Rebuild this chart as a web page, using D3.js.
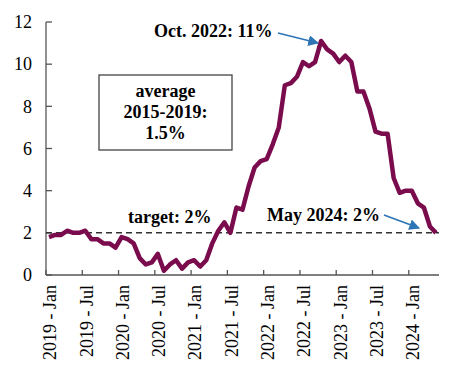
<!DOCTYPE html>
<html>
<head>
<meta charset="utf-8">
<script src="https://cdn.jsdelivr.net/npm/d3@7"></script>
<style>
  body { margin: 0; background: #fff; }
</style>
</head>
<body>
<svg id="chart" width="463" height="375" font-family="'Liberation Serif', 'DejaVu Serif', serif"></svg>
<script>
// datos
const years = [2019, 2020, 2021, 2022, 2023, 2024];
const monthNames = ['Jan','Feb','Mar','Apr','May','Jun','Jul','Aug','Sep','Oct','Nov','Dec'];
const inflation = [
  1.8, 1.9, 1.9, 2.1, 2.0, 2.0, 2.1, 1.7, 1.7, 1.5, 1.5, 1.3,
  1.8, 1.7, 1.5, 0.8, 0.5, 0.6, 1.0, 0.2, 0.5, 0.7, 0.3, 0.6,
  0.7, 0.4, 0.7, 1.5, 2.1, 2.5, 2.0, 3.2, 3.1, 4.2, 5.1, 5.4,
  5.5, 6.2, 7.0, 9.0, 9.1, 9.4, 10.1, 9.9, 10.1, 11.1, 10.7, 10.5,
  10.1, 10.4, 10.1, 8.7, 8.7, 7.9, 6.8, 6.7, 6.7, 4.6, 3.9, 4.0,
  4.0, 3.4, 3.2, 2.3, 2.0
];
const target = 2;
const yTicks = [0, 2, 4, 6, 8, 10, 12];

let meses = [];
years.forEach(a => monthNames.forEach(m => meses.push(a + ' - ' + m)));
meses = meses.slice(0, inflation.length);
const datos = meses.map((m, i) => ({mes: m, valor: inflation[i]}));
const etiquetasX = meses.filter((m, i) => i % 6 === 0);

let svg = d3.select("#chart");

let x = d3.scaleBand().domain(meses).range([46, 439]).padding(0);
let y = d3.scaleLinear().domain([0, 12]).range([275, 22]);
const centro = m => x(m) + x.bandwidth() / 2;

// eje Y
svg.append("line")
    .attr("x1", 46).attr("x2", 46)
    .attr("y1", y(12)).attr("y2", y(0))
    .style("stroke", "#555").style("stroke-width", 1.3);

svg.selectAll(".ytick")
    .data(yTicks)
    .enter()
    .append("line")
    .attr("x1", 46).attr("x2", 52)
    .attr("y1", d => y(d)).attr("y2", d => y(d))
    .style("stroke", "#555").style("stroke-width", 1.3);

svg.selectAll(".ylabel")
    .data(yTicks)
    .enter()
    .append("text")
    .text(d => d)
    .attr("x", 32)
    .attr("y", d => y(d))
    .attr("dy", ".35em")
    .attr("text-anchor", "end")
    .style("font-size", "18px");

// eje X
svg.append("line")
    .attr("x1", 46).attr("x2", 439)
    .attr("y1", y(0)).attr("y2", y(0))
    .style("stroke", "#555").style("stroke-width", 1.3);

svg.selectAll(".xtick")
    .data(etiquetasX)
    .enter()
    .append("line")
    .attr("x1", d => x(d)).attr("x2", d => x(d))
    .attr("y1", y(0) - 5).attr("y2", y(0))
    .style("stroke", "#555").style("stroke-width", 1.3);

svg.selectAll(".xlabel")
    .data(etiquetasX)
    .enter()
    .append("text")
    .text(d => d)
    .attr("transform", d => `translate(${centro(d) + 1},285) rotate(-90)`)
    .attr("dy", ".35em")
    .attr("text-anchor", "end")
    .style("font-size", "18px");

// linea objetivo
svg.append("line")
    .attr("x1", 46).attr("x2", 439)
    .attr("y1", y(target)).attr("y2", y(target))
    .style("stroke", "#333")
    .style("stroke-width", 1.5)
    .style("stroke-dasharray", "6,4");

// serie
let linea = d3.line()
    .x(d => centro(d.mes))
    .y(d => y(d.valor));

svg.append("path")
    .datum(datos)
    .attr("d", linea)
    .style("fill", "none")
    .style("stroke", "#7a0b4d")
    .style("stroke-width", 4.5)
    .style("stroke-linejoin", "round");

// cuadro promedio
svg.append("rect")
    .attr("x", 99).attr("y", 75)
    .attr("width", 133).attr("height", 75)
    .style("fill", "#fff")
    .style("stroke", "#444")
    .style("stroke-width", 1.3);

svg.selectAll(".caja")
    .data(["average", "2015-2019:", "1.5%"])
    .enter()
    .append("text")
    .text(d => d)
    .attr("x", 165.5)
    .attr("y", (d, i) => 97 + i * 21)
    .attr("text-anchor", "middle")
    .style("font-size", "18px")
    .style("font-weight", "bold");

// anotaciones
const notas = [
    {texto: "Oct. 2022: 11%", x: 154, y: 37},
    {texto: "target: 2%", x: 128, y: 223},
    {texto: "May 2024: 2%", x: 267, y: 221}
];
svg.selectAll(".nota")
    .data(notas)
    .enter()
    .append("text")
    .text(d => d.texto)
    .attr("x", d => d.x)
    .attr("y", d => d.y)
    .style("font-size", "18px")
    .style("font-weight", "bold");

svg.append("defs").append("marker")
    .attr("id", "flecha")
    .attr("viewBox", "0 0 10 10")
    .attr("refX", 9).attr("refY", 5)
    .attr("markerWidth", 6).attr("markerHeight", 6)
    .attr("markerUnits", "strokeWidth")
    .attr("orient", "auto")
    .append("path")
    .attr("d", "M0,0 L10,5 L0,10 z")
    .style("fill", "#2e75b6");

const flechas = [
    {x1: 278, y1: 33, x2: 318, y2: 43},
    {x1: 384, y1: 215, x2: 419, y2: 228}
];
svg.selectAll(".flecha")
    .data(flechas)
    .enter()
    .append("line")
    .attr("x1", d => d.x1).attr("y1", d => d.y1)
    .attr("x2", d => d.x2).attr("y2", d => d.y2)
    .style("stroke", "#2e75b6")
    .style("stroke-width", 1.8)
    .attr("marker-end", "url(#flecha)");
</script>
</body>
</html>
